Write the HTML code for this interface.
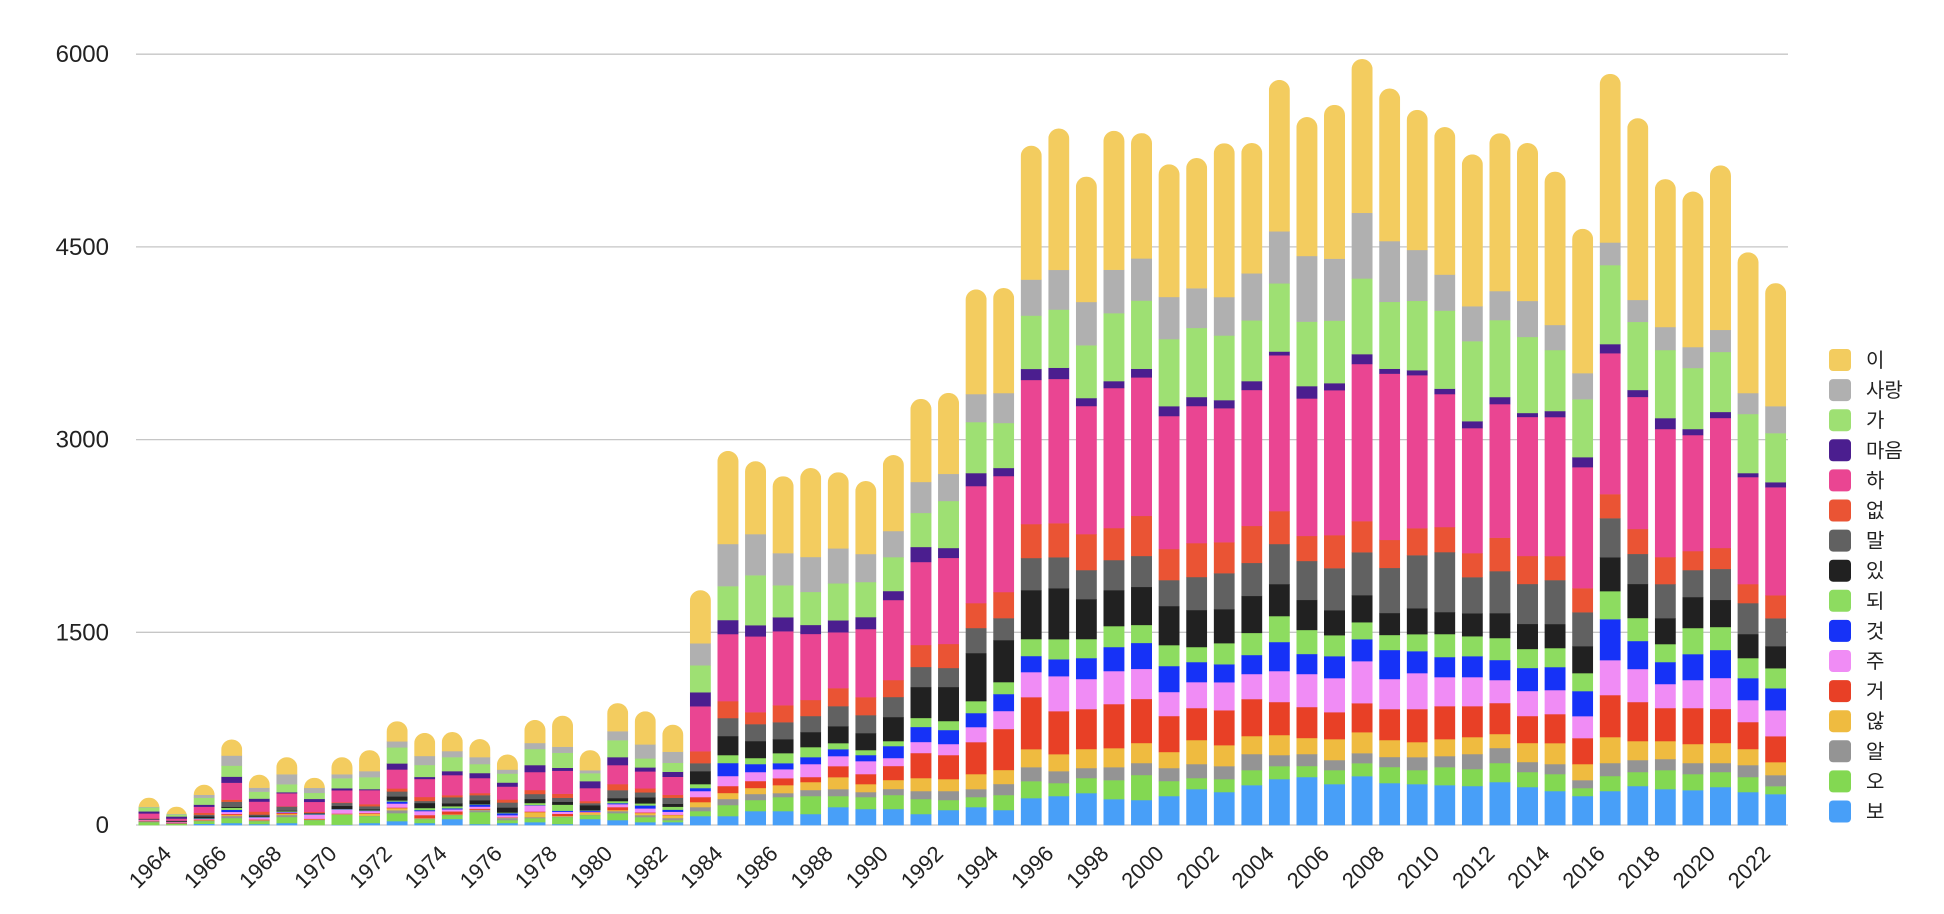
<!DOCTYPE html>
<html><head><meta charset="utf-8">
<style>
html,body{margin:0;padding:0;background:#fff;}
svg{display:block;font-family:"Liberation Sans","Noto Sans CJK KR",sans-serif;}
</style></head>
<body>
<svg id="chart" width="1944" height="914" viewBox="0 0 1944 914" xmlns="http://www.w3.org/2000/svg">
<defs id="defs"></defs>
<g id="grid"></g>
<g id="yaxis"></g>
<g id="bars"></g>
<g id="xaxis"></g>
<g id="legend"></g>
</svg>
<script>
const years = [];
for (let y = 1964; y <= 2023; y++) years.push(y);
const yTicks = [0, 1500, 3000, 4500, 6000];
const seriesNames = ["보","오","알","않","거","주","것","되","있","말","없","하","마음","가","사랑","이"];
const seriesColors = ["#489ff8","#83d852","#949494","#efbb40","#e84026","#f08cf5","#1632f7","#8ddc60","#212121","#616161","#ea5434","#ea4592","#4b1e8f","#9ee073","#b0b0b0","#f3cc5f"];

const bo = [0,0,10,16,8,16,0,3,16,31,16,47,8,16,23,8,47,39,23,23,70,70,109,109,86,140,125,125,86,117,140,117,210,226,249,202,195,226,280,257,311,358,374,319,381,327,319,311,304,335,296,265,226,265,304,280,272,296,257,241];
const o = [23,10,21,39,23,47,39,78,54,62,31,31,93,23,31,54,31,54,39,16,39,86,86,109,140,86,93,109,117,78,78,117,132,101,117,148,195,117,86,101,117,101,86,109,101,125,109,140,132,148,117,132,62,117,109,148,125,117,117,62];
const al = [8,5,5,16,5,16,3,3,3,23,5,3,16,16,8,5,3,16,16,16,31,47,47,31,47,54,39,47,62,70,62,86,109,93,78,101,93,101,109,101,125,86,93,78,78,78,101,86,117,117,78,78,62,101,93,86,86,70,93,86];
const anh = [0,0,3,8,3,8,3,3,16,16,3,3,3,3,39,5,16,8,16,23,39,47,47,62,62,93,62,70,101,93,117,109,140,132,148,148,156,125,187,163,140,156,125,163,163,132,117,132,132,109,148,163,125,202,148,140,148,156,125,101];
const geo = [5,5,5,8,5,8,5,3,5,5,23,23,8,3,5,16,3,23,5,3,39,54,54,54,39,86,78,109,195,187,249,319,405,335,311,343,343,280,249,272,288,257,241,210,226,241,257,257,241,241,210,226,202,327,304,257,280,265,210,202];
const ju = [8,5,5,16,16,5,31,31,16,31,31,16,16,16,47,16,5,23,31,23,47,78,70,70,101,78,101,62,86,86,117,140,195,272,234,257,234,187,202,218,195,241,257,265,327,234,280,226,226,179,195,187,171,272,257,187,218,241,171,202];
const geot = [0,0,3,16,3,3,3,3,3,16,8,8,16,16,3,8,8,8,23,16,23,101,62,47,54,54,47,93,117,109,109,132,125,132,163,187,202,202,156,140,148,226,156,171,171,226,171,156,163,156,179,179,195,319,218,171,202,218,171,171];
const doe = [0,0,3,16,3,5,3,3,3,8,16,16,3,5,16,47,3,16,16,23,31,62,47,78,78,47,39,39,70,70,93,93,132,156,148,163,140,163,117,164,172,202,187,163,132,117,132,179,155,171,148,148,140,218,179,140,203,179,156,156];
const iss = [5,5,13,8,8,5,3,23,8,31,39,23,31,39,31,23,39,23,47,23,101,148,132,109,117,132,132,187,241,265,374,327,381,397,311,280,296,304,288,265,288,249,234,195,211,171,202,171,179,194,195,187,210,264,265,202,241,211,187,172];
const mal = [2,5,13,39,8,31,5,23,23,39,16,47,39,39,39,31,16,62,39,47,62,140,132,132,125,156,140,156,156,148,195,171,250,241,226,234,241,202,257,280,257,312,303,327,334,351,413,467,281,327,311,342,264,304,234,265,210,241,241,217];
const eops = [1,0,15,16,23,3,8,5,16,23,31,16,16,23,31,31,16,47,31,23,93,132,93,132,125,140,140,132,171,187,194,203,264,265,280,249,312,242,264,241,288,256,195,257,242,218,210,195,187,260,218,187,187,187,194,210,148,163,148,179];
const ha = [39,16,47,132,78,101,78,93,109,148,140,156,117,101,140,179,101,148,132,140,350,522,590,576,514,435,530,623,646,670,911,903,1122,1123,997,1090,1078,1035,1067,1043,1058,1213,1070,1128,1223,1294,1191,1035,973,1040,1082,1082,942,1097,1028,997,903,1012,833,841];
const maeum = [16,16,16,47,23,8,23,16,8,47,16,31,39,31,54,23,54,62,31,39,109,109,87,109,70,93,93,70,117,77,101,63,86,87,62,54,67,77,70,63,69,29,96,55,77,38,39,42,54,55,31,47,78,71,54,85,47,47,31,39];
const ga = [31,16,54,86,54,62,47,78,93,125,93,109,70,70,125,117,62,132,70,70,210,264,389,249,257,288,273,264,265,366,397,350,415,453,411,529,531,522,538,503,473,531,502,487,589,521,540,608,623,599,592,475,451,615,530,530,475,467,460,382];
const sarang = [5,5,23,78,31,78,39,31,47,47,70,47,54,31,47,47,23,70,109,86,171,328,320,250,272,272,218,203,241,211,218,233,280,309,337,338,328,328,309,299,366,405,511,482,511,473,396,280,272,226,280,195,203,176,171,179,163,172,163,210];
const i_ = [70,55,78,125,101,132,78,132,163,156,179,148,140,117,179,241,156,218,257,210,413,724,567,598,692,592,568,591,646,630,814,817,1042,1100,975,1081,975,1032,1013,1197,1014,1178,1081,1197,1197,1187,1090,1148,1181,1228,1229,1193,1123,1312,1414,1151,1210,1280,1095,957];

const seriesData = [bo,o,al,anh,geo,ju,geot,doe,iss,mal,eops,ha,maeum,ga,sarang,i_];

const NS = "http://www.w3.org/2000/svg";
const Y0 = 825, YMAX_PX = 54.2, VMAX = 6000;
function yScale(v){ return Y0 - v * (Y0 - YMAX_PX) / VMAX; }
const X0 = 149, STEP = 27.57, BW = 21;
function xScale(i){ return X0 + i * STEP; }
function mk(tag, attrs){ const e = document.createElementNS(NS, tag); for (const k in attrs) e.setAttribute(k, attrs[k]); return e; }

// grid + y labels
const grid = document.getElementById('grid');
const yaxis = document.getElementById('yaxis');
yTicks.forEach(t => {
  const ln = mk('line', {x1:136, x2:1788, y1:yScale(t), y2:yScale(t), stroke:'#c6c6c6', 'stroke-width':1.3});
  
  
  grid.appendChild(ln);
  const tx = mk('text', {x:109, y:yScale(t) + 8, 'text-anchor':'end', 'font-size':24, fill:'#222'});
  tx.textContent = t;
  
  
  yaxis.appendChild(tx);
});

// bars
const defs = document.getElementById('defs');
const barsG = document.getElementById('bars');
years.forEach((yr, i) => {
  let total = 0;
  seriesData.forEach(s => total += s[i]);
  const cx = xScale(i), left = cx - BW/2;
  const topY = yScale(total);
  const cp = mk('clipPath', {id:'clip' + i});
  cp.appendChild(mk('rect', {x:left, y:topY, width:BW, height:(Y0 - topY) + 30, rx:BW/2, ry:BW/2}));
  defs.appendChild(cp);
  const g = mk('g', {'clip-path':'url(#clip' + i + ')'});
  
  
  let cum = 0;
  seriesData.forEach((s, k) => {
    const v = s[i];
    if (v <= 0) return;
    const y1 = yScale(cum + v), y2 = yScale(cum);
    const r = mk('rect', {x:left, y:y1, width:BW, height:(y2 - y1) + 0.3, fill:seriesColors[k]});
    
    
    g.appendChild(r);
    cum += v;
  });
  barsG.appendChild(g);
});

// x labels
const xaxis = document.getElementById('xaxis');
years.forEach((yr, i) => {
  if (i % 2 !== 0) return;
  const cx = xScale(i);
  const t = mk('text', {'text-anchor':'middle', 'dominant-baseline':'central', 'font-size':22, fill:'#222',
    transform:'translate(' + (cx + 1) + ',867) rotate(-45)'});
  t.textContent = yr;
  
  
  xaxis.appendChild(t);
});

// legend (top to bottom: reverse of stack order)
const legend = document.getElementById('legend');
for (let k = seriesNames.length - 1, row = 0; k >= 0; k--, row++) {
  const cy = 360 + row * 30.1;
  const g = mk('g', {});
  
  
  const sw = mk('rect', {x:1829, y:cy - 11, width:22, height:22, rx:4, fill:seriesColors[k]});
  
  
  g.appendChild(sw);
  const tx = mk('text', {x:1866, y:cy + 7, 'font-size':20, fill:'#222'});
  tx.textContent = seriesNames[k];
  
  
  g.appendChild(tx);
  legend.appendChild(g);
}
</script>
</body></html>
